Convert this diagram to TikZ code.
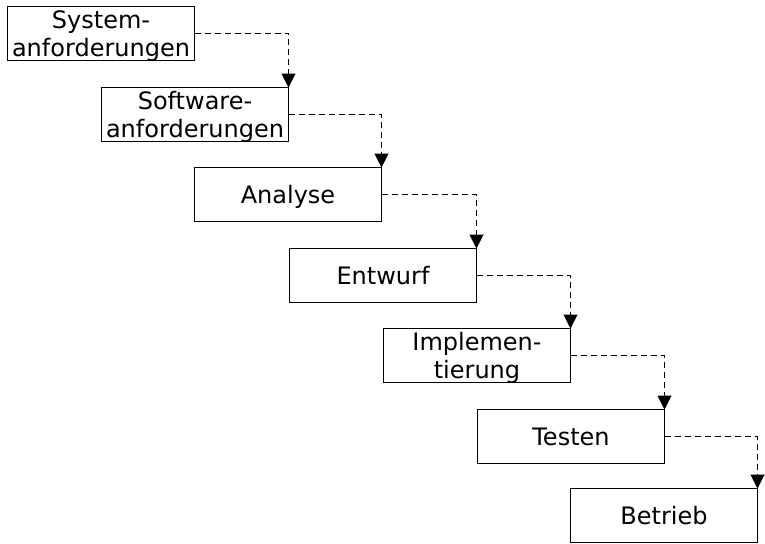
\documentclass[tikz,border=0pt]{standalone}
\usepackage{fontspec}
\setmainfont{DejaVu Sans}
\usetikzlibrary{arrows.meta}
\begin{document}
\begin{tikzpicture}[x=1pt, y=-1pt,
  phase/.style={draw, line width=1pt, minimum width=187pt, minimum height=54pt,
    inner sep=0pt, outer sep=0pt, align=center, font=\fontsize{24}{28}\selectfont},
  oneline/.style={text height=17pt, text depth=0pt},
  twoline/.style={text depth=0pt},
  flow/.style={line width=1pt, dash pattern=on 6pt off 4pt,
    -{Triangle[length=14pt, width=14pt]}}]
  % canvas
  \fill[white] (0,0) rectangle (765,543);
  \useasboundingbox (0,0) rectangle (765,543);
  % waterfall phases (outlines on pixel centres)
  \node[phase, twoline] (s1) at (101, 33.5) {System-\\anforderungen};
  \node[phase, twoline] (s2) at (195,114.5) {Software-\\anforderungen};
  \node[phase, oneline] (s3) at (288,194.5) {Analyse};
  \node[phase, oneline] (s4) at (383,275.5) {Entwurf};
  \node[phase, twoline] (s5) at (477,355.5) {Implemen-\\tierung};
  \node[phase, oneline] (s6) at (571,436.5) {Testen};
  \node[phase, oneline] (s7) at (664,515.5) {Betrieb};
  % transitions between phases
  \foreach \a/\b in {s1/s2, s2/s3, s3/s4, s4/s5, s5/s6, s6/s7}
    \draw[flow] (\a.east) -| (\b.north east);
\end{tikzpicture}
\end{document}
